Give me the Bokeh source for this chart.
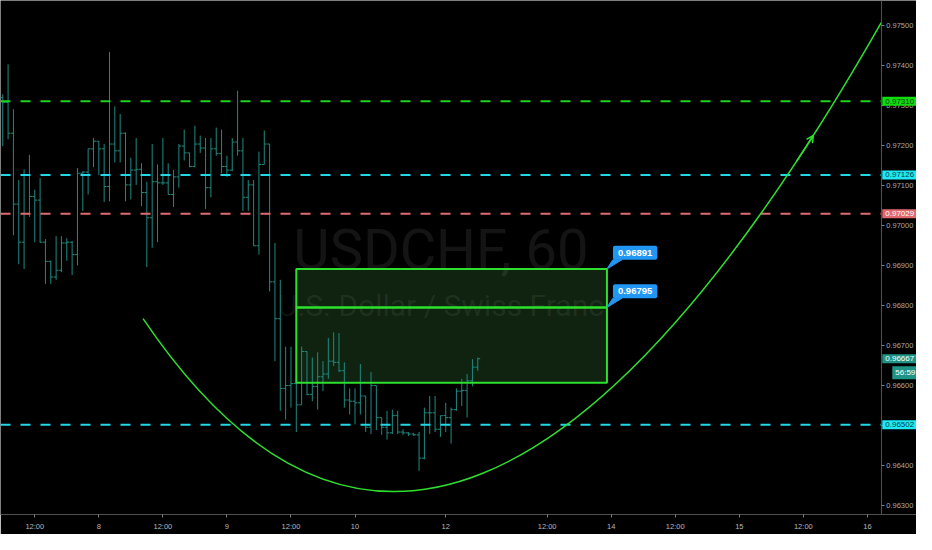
from bokeh.plotting import figure
from bokeh.models import (Range1d, FixedTicker, Label, Arrow, OpenHead, NumeralTickFormatter,
                          LinearAxis)
from bokeh.core.properties import value
from bokeh.embed import file_html
from bokeh.resources import INLINE

# ---------------- data (hourly OHLC, x = hours from day 8 00:00, weekend removed) ----------------
bar_hour = list(range(-18, 72))
opens = [0.97319, 0.97307, 0.97230, 0.97053, 0.96958, 0.97126, 0.97072, 0.97063, 0.96958, 0.96910,
         0.96871, 0.96888, 0.96956, 0.96958, 0.96927, 0.97130, 0.97133, 0.97191, 0.97210, 0.97191,
         0.97097, 0.97203, 0.97186, 0.97230, 0.97101, 0.97138, 0.97140, 0.97082, 0.97019, 0.97109,
         0.97106, 0.97106, 0.97077, 0.97121, 0.97198, 0.97181, 0.97147, 0.97203, 0.97193, 0.97094,
         0.97191, 0.97179, 0.97147, 0.97138, 0.97208, 0.97186, 0.97070, 0.97101, 0.96949, 0.97152,
         0.97203, 0.96859, 0.96767, 0.96593, 0.96600, 0.96605, 0.96552, 0.96685, 0.96578, 0.96598,
         0.96622, 0.96629, 0.96661, 0.96658, 0.96637, 0.96564, 0.96561, 0.96557, 0.96574, 0.96496,
         0.96600, 0.96520, 0.96496, 0.96482, 0.96525, 0.96484, 0.96482, 0.96479, 0.96477, 0.96419,
         0.96532, 0.96532, 0.96491, 0.96525, 0.96520, 0.96540, 0.96586, 0.96588, 0.96612, 0.96646]
highs = [0.97327, 0.97402, 0.97290, 0.97113, 0.97140, 0.97176, 0.97089, 0.97118, 0.96966, 0.96912,
         0.96973, 0.96973, 0.96968, 0.96961, 0.97143, 0.97135, 0.97191, 0.97218, 0.97210, 0.97203,
         0.97433, 0.97297, 0.97278, 0.97232, 0.97169, 0.97218, 0.97155, 0.97109, 0.97203, 0.97152,
         0.97218, 0.97155, 0.97138, 0.97203, 0.97239, 0.97181, 0.97249, 0.97224, 0.97218, 0.97218,
         0.97244, 0.97239, 0.97174, 0.97218, 0.97336, 0.97218, 0.97113, 0.97113, 0.97184, 0.97237,
         0.97203, 0.96956, 0.96864, 0.96697, 0.96697, 0.96617, 0.96697, 0.96685, 0.96670, 0.96683,
         0.96661, 0.96719, 0.96733, 0.96731, 0.96658, 0.96593, 0.96593, 0.96654, 0.96574, 0.96634,
         0.96600, 0.96520, 0.96537, 0.96540, 0.96537, 0.96491, 0.96484, 0.96482, 0.96484, 0.96545,
         0.96574, 0.96574, 0.96525, 0.96557, 0.96545, 0.96593, 0.96617, 0.96629, 0.96666, 0.96670]
lows = [0.97198, 0.97215, 0.96975, 0.96903, 0.96891, 0.97021, 0.96958, 0.96956, 0.96854, 0.96854,
        0.96864, 0.96883, 0.96912, 0.96876, 0.96900, 0.97036, 0.97077, 0.97145, 0.97126, 0.97058,
        0.97060, 0.97157, 0.97157, 0.97060, 0.97065, 0.97101, 0.97048, 0.96896, 0.96944, 0.96958,
        0.97101, 0.97077, 0.97046, 0.97094, 0.97162, 0.97145, 0.97145, 0.97181, 0.97041, 0.97070,
        0.97174, 0.97130, 0.97121, 0.97135, 0.97174, 0.97036, 0.97036, 0.96949, 0.96927, 0.97152,
        0.96835, 0.96661, 0.96537, 0.96515, 0.96545, 0.96484, 0.96552, 0.96576, 0.96561, 0.96540,
        0.96586, 0.96617, 0.96649, 0.96634, 0.96545, 0.96528, 0.96503, 0.96528, 0.96484, 0.96479,
        0.96489, 0.96477, 0.96465, 0.96479, 0.96479, 0.96477, 0.96474, 0.96474, 0.96387, 0.96416,
        0.96479, 0.96484, 0.96472, 0.96484, 0.96455, 0.96537, 0.96549, 0.96520, 0.96598, 0.96637]
closes = [0.97307, 0.97230, 0.97053, 0.96958, 0.97126, 0.97072, 0.97063, 0.96958, 0.96910, 0.96871,
          0.96888, 0.96956, 0.96958, 0.96927, 0.97130, 0.97133, 0.97191, 0.97210, 0.97191, 0.97097,
          0.97203, 0.97186, 0.97230, 0.97101, 0.97138, 0.97140, 0.97082, 0.97019, 0.97109, 0.97106,
          0.97106, 0.97077, 0.97121, 0.97198, 0.97181, 0.97147, 0.97203, 0.97193, 0.97094, 0.97191,
          0.97179, 0.97147, 0.97138, 0.97208, 0.97186, 0.97070, 0.97101, 0.96949, 0.97152, 0.97203,
          0.96859, 0.96767, 0.96593, 0.96600, 0.96605, 0.96552, 0.96685, 0.96578, 0.96598, 0.96622,
          0.96629, 0.96661, 0.96658, 0.96637, 0.96564, 0.96561, 0.96557, 0.96574, 0.96496, 0.96600,
          0.96520, 0.96496, 0.96482, 0.96525, 0.96484, 0.96482, 0.96479, 0.96477, 0.96419, 0.96532,
          0.96532, 0.96491, 0.96525, 0.96520, 0.96540, 0.96586, 0.96588, 0.96612, 0.96646, 0.96667]

x_tick_hours = [-12, 0, 12, 24, 36, 48, 65, 84, 96, 108, 120, 132, 144]
x_tick_labels = ["12:00", "8", "12:00", "9", "12:00", "10", "12", "12:00", "14", "12:00", "15", "12:00", "16"]
y_ticks = [0.963, 0.964, 0.965, 0.966, 0.967, 0.968, 0.969, 0.970, 0.971, 0.972, 0.973, 0.974, 0.975]

level_prices = [0.97310, 0.97126, 0.97029, 0.96502]
level_colors = ["#1ed41e", "#22d8e8", "#e06c70", "#22d8e8"]
level_tag_bg = ["#10dc10", "#1ee8f4", "#e0686c", "#1ee8f4"]
level_tag_fg = ["#0b3a0b", "#0a3a44", "#ffffff", "#0a3a44"]

zone_start, zone_end = 37, 95.2
zone_levels = [0.96607, 0.96795, 0.96891]

# quadratic curve drawing: start, control, end (hour, price)
curve_start = (8.29, 0.96767)
curve_ctrl = (66.21, 0.956245)
curve_end = (146.59, 0.97506)

last_price = 0.96667
countdown = "56:59"

# ---------------- figure ----------------
x0, x1 = -18.42, 153.2      # visible time span (the price scale sits in the last part)
scale_x = 146.6             # where the price scale begins
y0, y1 = 0.962782, 0.975613
p = figure(width=916, height=534, output_backend="svg", toolbar_location=None,
           x_range=Range1d(x0, x1), y_range=Range1d(y0, y1),
           y_axis_location=None,
           background_fill_color="#000000", border_fill_color="#000000",
           min_border_left=0, min_border_top=0, min_border_right=0, min_border_bottom=20)
p.outline_line_color = None
p.grid.visible = False

# zone fill
p.quad(left=[zone_start, zone_start], right=[zone_end, zone_end],
       bottom=zone_levels[:2], top=zone_levels[1:],
       fill_color="#4caf50", fill_alpha=0.2, line_color=None)

# watermark
xm = (x0 + scale_x) / 2
ym = (y0 + y1) / 2
p.text(x=[xm], y=[ym], text=["USDCHF, 60"], text_align="center", text_baseline="alphabetic",
       y_offset=-8, text_font=value("Roboto"), text_font_size="56px",
       text_color="#ffffff", text_alpha=0.08)
p.text(x=[xm], y=[ym], text=["U.S. Dollar / Swiss Franc"], text_align="center",
       text_baseline="alphabetic", y_offset=48, text_font=value("Roboto"),
       text_font_size="30px", text_color="#ffffff", text_alpha=0.08)

# OHLC bars
bar_col = "#1f8a80"
tick = 0.45
p.segment(x0=bar_hour, y0=lows, x1=bar_hour, y1=highs, line_color=bar_col, line_width=1)
p.segment(x0=[h - tick for h in bar_hour], y0=opens, x1=bar_hour, y1=opens, line_color=bar_col, line_width=1)
p.segment(x0=bar_hour, y0=closes, x1=[h + tick for h in bar_hour], y1=closes, line_color=bar_col, line_width=1)

# zone outline
p.quad(left=[zone_start, zone_start], right=[zone_end, zone_end],
       bottom=zone_levels[:2], top=zone_levels[1:],
       fill_color=None, line_color="#2ee02e", line_width=2)

# horizontal levels (up to the price scale)
p.segment(x0=[x0] * len(level_prices), y0=level_prices, x1=[scale_x] * len(level_prices), y1=level_prices,
          line_color=level_colors, line_width=2, line_dash="10 10")

# curve
p.quadratic(x0=[curve_start[0]], y0=[curve_start[1]], x1=[curve_end[0]], y1=[curve_end[1]],
            cx=[curve_ctrl[0]], cy=[curve_ctrl[1]], line_color="#2ee02e", line_width=1.5)


def bez(t):
    bx = (1 - t) ** 2 * curve_start[0] + 2 * t * (1 - t) * curve_ctrl[0] + t ** 2 * curve_end[0]
    by = (1 - t) ** 2 * curve_start[1] + 2 * t * (1 - t) * curve_ctrl[1] + t ** 2 * curve_end[1]
    return bx, by


ax0, ay0 = bez(0.90)
ax1, ay1 = bez(0.92)
p.add_layout(Arrow(end=OpenHead(size=7, line_color="#2ee02e", line_width=1.5),
                   x_start=ax0, y_start=ay0, x_end=ax1, y_end=ay1, line_color="#2ee02e", line_width=1.5))

# callouts on the zone
bubble_dy = 0.00023
for lv in zone_levels[1:]:
    p.patch(x=[zone_end, zone_end + 1.1, zone_end + 2.8], y=[lv, lv + bubble_dy, lv + bubble_dy],
            fill_color="#2196f3", line_color="#2196f3")
    p.add_layout(Label(x=zone_end, y=lv + bubble_dy, x_offset=6, text=f"{lv:.5f}",
                       text_baseline="bottom", text_align="left", text_font="Liberation Sans",
                       text_font_size="9.5px", text_font_style="bold", text_color="#ffffff",
                       background_fill_color="#2196f3", border_radius=2, padding=(5, 4)))

# price axis drawn at the start of the price scale
yax = LinearAxis(fixed_location=scale_x)
yax.ticker = FixedTicker(ticks=y_ticks)
yax.formatter = NumeralTickFormatter(format="0.00000")
yax.major_label_text_font_size = "7.5px"
yax.major_label_text_font = "Liberation Sans"
yax.major_label_text_color = "#a8a8a8"
yax.axis_line_color = "#505050"
yax.major_tick_line_color = "#808080"
yax.major_tick_out = 3
yax.major_tick_in = 0
yax.minor_tick_line_color = None
yax.major_label_standoff = 2
p.add_layout(yax, "right")

p.xaxis.ticker = FixedTicker(ticks=x_tick_hours)
p.xaxis.major_label_overrides = {h: l for h, l in zip(x_tick_hours, x_tick_labels)}
p.xaxis.major_label_text_font_size = "7.5px"
p.xaxis.major_label_text_font = "Liberation Sans"
p.xaxis.major_label_text_color = "#b8b8b8"
p.xaxis.axis_line_color = "#505050"
p.xaxis.major_tick_line_color = "#808080"
p.xaxis.major_tick_out = 3
p.xaxis.major_tick_in = 0
p.xaxis.minor_tick_line_color = None
p.xaxis.major_label_standoff = 4

# price tags on the right scale
for lv, bg, fg in zip(level_prices, level_tag_bg, level_tag_fg):
    p.add_layout(Label(x=scale_x, y=lv, x_offset=1, text=f"{lv:.5f}", text_baseline="middle",
                       text_align="left", text_font="Liberation Sans", text_font_size="8px",
                       text_color=fg, background_fill_color=bg, padding=(3, 2)))
p.add_layout(Label(x=scale_x, y=last_price, x_offset=1, text=f"{last_price:.5f}", text_baseline="middle",
                   text_align="left", text_font="Liberation Sans", text_font_size="8px",
                   text_color="#ffffff", background_fill_color="#1f9486", padding=(3, 2)))
p.add_layout(Label(x=scale_x, y=last_price, x_offset=11, y_offset=-14, text=countdown, text_baseline="middle",
                   text_align="left", text_font="Liberation Sans", text_font_size="8px",
                   text_color="#ffffff", background_fill_color="#1f9486", padding=(3, 2)))

open("out.html", "w").write(file_html(p, INLINE))
